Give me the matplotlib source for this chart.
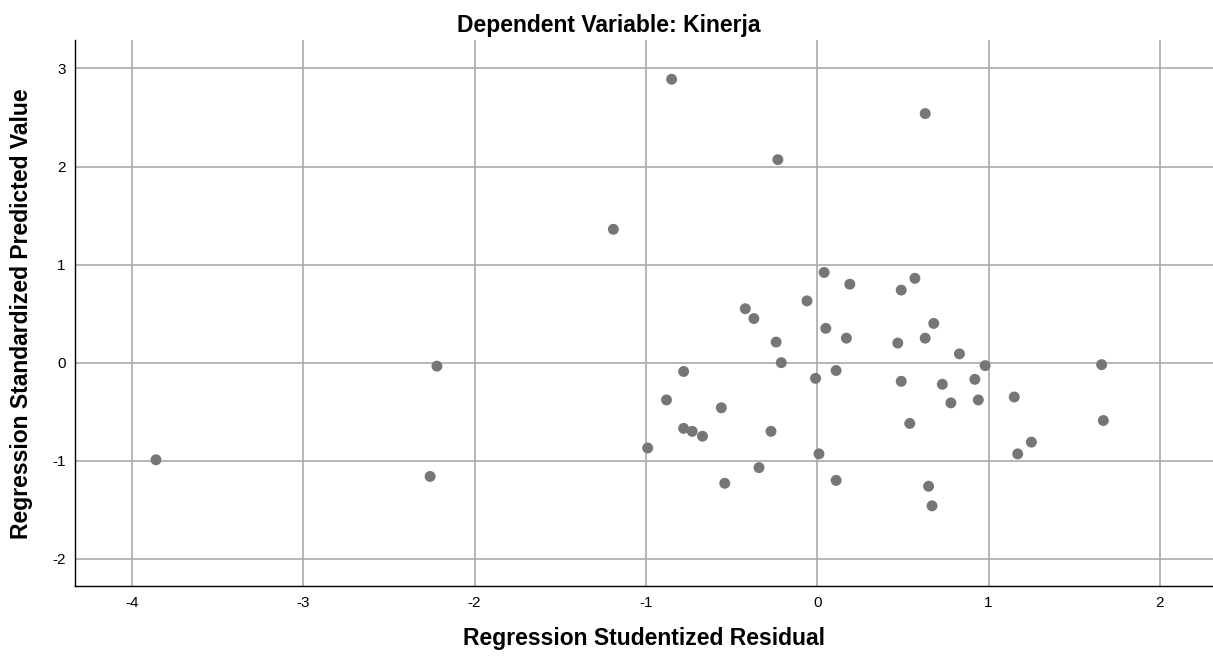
#!/usr/bin/python3
"""
Scatterplot of studentized residuals vs standardized predicted values.
"""
import matplotlib
matplotlib.use('Agg')
import matplotlib.pyplot as plt

# Regression Studentized Residual
resid = [-3.86, -2.26, -2.22, -1.19, -0.99, -0.88, -0.85, -0.78, -0.78, -0.73,
         -0.67, -0.56, -0.54, -0.42, -0.37, -0.34, -0.27, -0.24, -0.23, -0.21,
         -0.06, -0.01, 0.01, 0.04, 0.05, 0.11, 0.11, 0.17, 0.19, 0.47,
         0.49, 0.49, 0.54, 0.57, 0.63, 0.63, 0.65, 0.67, 0.68, 0.73,
         0.78, 0.83, 0.92, 0.94, 0.98, 1.15, 1.17, 1.25, 1.66, 1.67]
# Regression Standardized Predicted Value
pred = [-0.99, -1.16, -0.035, 1.36, -0.87, -0.38, 2.89, -0.09, -0.67, -0.70,
        -0.75, -0.46, -1.23, 0.55, 0.45, -1.07, -0.70, 0.21, 2.07, 0.0,
        0.63, -0.16, -0.93, 0.92, 0.35, -0.08, -1.20, 0.25, 0.80, 0.20,
        0.74, -0.19, -0.62, 0.86, 0.25, 2.54, -1.26, -1.46, 0.40, -0.22,
        -0.41, 0.09, -0.17, -0.38, -0.03, -0.35, -0.93, -0.81, -0.02, -0.59]

x_ticks = [-4, -3, -2, -1, 0, 1, 2]
y_ticks = [-2, -1, 0, 1, 2, 3]


def format_plotting():
    plt.rcParams['font.family'] = ['Liberation Sans', 'DejaVu Sans']
    plt.rcParams['axes.unicode_minus'] = False
    plt.rcParams['xtick.labelsize'] = 11
    plt.rcParams['ytick.labelsize'] = 11
    plt.rcParams['xtick.major.size'] = 0
    plt.rcParams['ytick.major.size'] = 0
    plt.rcParams['axes.linewidth'] = 1


def plot_scatter():
    format_plotting()
    fig = plt.figure(figsize=(12.13, 6.58), dpi=100)
    ax = fig.add_axes([0.0622, 0.109, 0.9378, 0.8302])
    ax.scatter(resid, pred, s=62, color='#767676', edgecolors='none', zorder=3)

    ax.set_xlim(-4.33, 2.31)
    ax.set_ylim(-2.28, 3.29)
    ax.set_xticks(x_ticks)
    ax.set_yticks(y_ticks)
    ax.grid(True, color='#aaaaaa', linewidth=1.2)
    ax.set_axisbelow(True)

    ax.spines['right'].set_visible(False)
    ax.spines['top'].set_visible(False)
    ax.tick_params(axis='x', pad=7)
    ax.tick_params(axis='y', pad=7)

    ax.set_xlabel('Regression Studentized Residual', fontsize=16.5,
                  fontweight='bold', labelpad=12)
    # y label placed by hand so it stays inside the figure
    fig.text(22 / 1213, 0.524, 'Regression Standardized Predicted Value',
             fontsize=16.5, fontweight='bold', rotation=90,
             ha='center', va='center')
    fig.suptitle('Dependent Variable: Kinerja', fontsize=16.5,
                 fontweight='bold', x=0.502, y=0.979)

    fig.savefig('out.png', dpi=100)


if __name__ == "__main__":
    plot_scatter()
